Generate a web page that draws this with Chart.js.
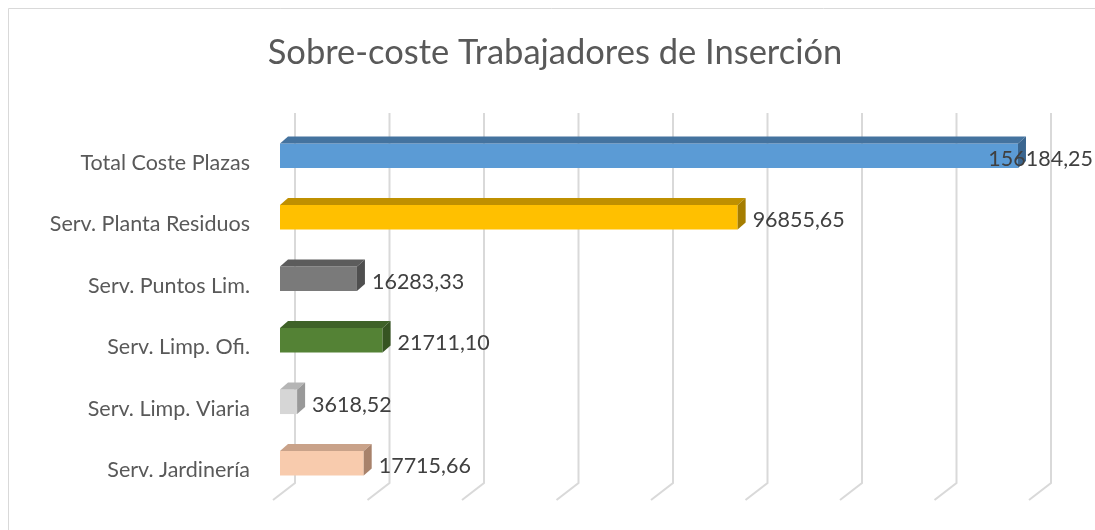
<!DOCTYPE html>
<html>
<head>
<meta charset="utf-8">
<script src="https://cdn.jsdelivr.net/npm/chart.js@4/dist/chart.umd.min.js"></script>
<style>
html,body{margin:0;padding:0;background:#fff;}
#wrap{width:1095px;height:530px;position:relative;}
</style>
</head>
<body>
<div id="wrap"><canvas id="c" width="1095" height="530"></canvas></div>
<script>
const titleText = 'Sobre-coste Trabajadores de Inserción';
const categories = ['Total Coste Plazas','Serv. Planta Residuos','Serv. Puntos Lim.','Serv. Limp. Ofi.','Serv. Limp. Viaria','Serv. Jardinería'];
const values = [156184.25, 96855.65, 16283.33, 21711.10, 3618.52, 17715.66];
const valueLabels = ['156184,25','96855,65','16283,33','21711,10','3618,52','17715,66'];
const frontColors = ['#5B9BD5','#FFC000','#7A7A7A','#548235','#D6D6D6','#F8CBAD'];
const topColors = ['#44739F','#BF9000','#5C5C5C','#3F6228','#B5B5B5','#C9A289'];
const sideColors = ['#3A6690','#A57D00','#4F4F4F','#365422','#999999','#A8826B'];
const xMax = 160000;
const xStep = 20000;

const FONT = 'Lato, "Open Sans", sans-serif';
const DX = 8, DY = 7;

const threeD = {
  id: 'threeD',
  beforeDatasetsDraw(chart) {
    const ctx = chart.ctx;
    const xs = chart.scales.x;
    const area = chart.chartArea;
    ctx.save();
    ctx.strokeStyle = '#D9D9D9';
    ctx.lineWidth = 2;
    for (let v = 0; v <= xMax; v += xStep) {
      const px = xs.getPixelForValue(v);
      ctx.beginPath();
      ctx.moveTo(px + 15, area.top - 12);
      ctx.lineTo(px + 15, area.bottom - 11);
      ctx.lineTo(px - 7, area.bottom + 6);
      ctx.stroke();
    }
    ctx.restore();
  },
  afterDatasetsDraw(chart) {
    const ctx = chart.ctx;
    const meta = chart.getDatasetMeta(0);
    ctx.save();
    meta.data.forEach((bar, i) => {
      const x0 = bar.base, x1 = bar.x;
      const yT = bar.y - bar.height / 2, yB = bar.y + bar.height / 2;
      ctx.fillStyle = topColors[i];
      ctx.beginPath();
      ctx.moveTo(x0, yT);
      ctx.lineTo(x0 + DX, yT - DY);
      ctx.lineTo(x1 + DX, yT - DY);
      ctx.lineTo(x1, yT);
      ctx.closePath();
      ctx.fill();
      ctx.fillStyle = sideColors[i];
      ctx.beginPath();
      ctx.moveTo(x1, yT);
      ctx.lineTo(x1 + DX, yT - DY);
      ctx.lineTo(x1 + DX, yB - DY);
      ctx.lineTo(x1, yB);
      ctx.closePath();
      ctx.fill();
      ctx.font = '21.5px ' + FONT;
      ctx.fillStyle = '#404040';
      ctx.textBaseline = 'middle';
      ctx.textAlign = 'left';
      let tx = x1 + DX + 7;
      const w = ctx.measureText(valueLabels[i]).width;
      if (tx + w > chart.width - 2) tx = chart.width - 2 - w;
      ctx.fillText(valueLabels[i], tx, bar.y + 3);
    });
    ctx.restore();
  },
  beforeDraw(chart) {
    const ctx = chart.ctx;
    ctx.save();
    ctx.fillStyle = '#fff';
    ctx.fillRect(0, 0, chart.width, chart.height);
    ctx.strokeStyle = '#D9D9D9';
    ctx.lineWidth = 1;
    ctx.beginPath();
    ctx.moveTo(8.5, chart.height);
    ctx.lineTo(8.5, 8.5);
    ctx.lineTo(chart.width, 8.5);
    ctx.stroke();
    ctx.font = '34.5px ' + FONT;
    ctx.fillStyle = '#595959';
    ctx.textAlign = 'center';
    ctx.textBaseline = 'middle';
    ctx.fillText(titleText, 555, 53);
    ctx.restore();
  }
};

new Chart(document.getElementById('c'), {
  type: 'bar',
  data: {
    labels: categories,
    datasets: [{
      data: values,
      backgroundColor: frontColors,
      borderWidth: 0,
      barPercentage: 0.8,
      categoryPercentage: 0.5
    }]
  },
  options: {
    indexAxis: 'y',
    responsive: false,
    animation: false,
    events: [],
    layout: { padding: { top: 125, bottom: 36, right: 59, left: 0 } },
    plugins: { legend: { display: false }, tooltip: { enabled: false }, title: { display: false } },
    scales: {
      x: { min: 0, max: xMax, display: false, ticks: { stepSize: xStep } },
      y: {
        grid: { display: false },
        border: { display: false },
        afterFit(scale) { scale.width = 280; },
        ticks: { font: { family: FONT, size: 21.5 }, color: '#595959', padding: 22, labelOffset: 7 }
      }
    }
  },
  plugins: [threeD]
});
</script>
</body>
</html>
